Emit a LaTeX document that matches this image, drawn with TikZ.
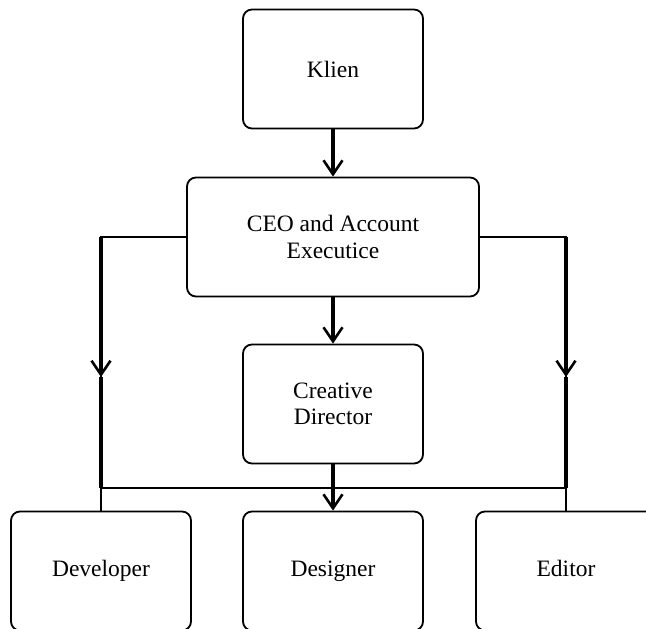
\documentclass[tikz,border=0pt]{standalone}
\usepackage{fontspec}
\setmainfont{Liberation Serif}
\usetikzlibrary{arrows.meta}
\tikzset{
  box/.style={draw,line width=1.8pt,rounded corners=9pt,minimum width=180pt,minimum height=119pt,align=center,font=\fontsize{23.5}{26.5}\selectfont},
  leaf/.style={box,text height=16pt,text depth=5pt},
  link/.style={line width=3.2pt,-{Straight Barb[length=14pt,width=19pt,line width=2.6pt]}},
  branch/.style={line width=2.4pt},
}
\begin{document}
\begin{tikzpicture}[x=1pt,y=-1pt]
	\useasboundingbox (0,0) rectangle (646,629);
	\node[box] (klien) at (333,69) {Klien};
	\node[box,minimum width=292pt] (ceo) at (333,237) {CEO and Account\\Executice};
	\node[box] (creative) at (333,404) {Creative\\Director};
	\node[leaf] (developer) at (101,571) {Developer};
	\node[leaf] (designer) at (333,571) {Designer};
	\node[leaf] (editor) at (566,571) {Editor};
	\coordinate (ltip) at (101,377);
	\coordinate (rtip) at (566,377);
	\coordinate (ljoin) at (101,488);
	\coordinate (rjoin) at (566,488);
	\draw[link] (klien) -- (ceo);
	\draw[link] (ceo) -- (creative);
	\draw[link] (creative) -- (designer);
	\draw[branch] (ceo.west) -| (ltip);
	\draw[branch] (ceo.east) -| (rtip);
	\draw[link] (ltip |- ceo.west) -- (ltip);
	\draw[link] (rtip |- ceo.east) -- (rtip);
	\draw[link,-] (ltip) -- (ljoin);
	\draw[link,-] (rtip) -- (rjoin);
	\draw[branch] (ljoin) -- (rjoin);
	\draw[branch,line width=2pt] (ljoin) -- (developer.north);
	\draw[branch,line width=2pt] (rjoin) -- (editor.north);
\end{tikzpicture}
\end{document}
